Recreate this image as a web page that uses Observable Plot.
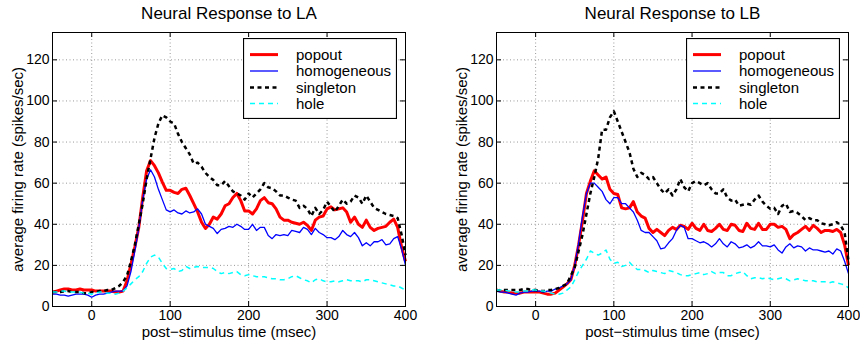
<!DOCTYPE html>
<html>
<head>
<meta charset="utf-8">
<script src="https://cdn.jsdelivr.net/npm/d3@7"></script>
<script src="https://cdn.jsdelivr.net/npm/@observablehq/plot@0.6"></script>
<style>
  html, body { margin: 0; padding: 0; background: white; }
  #wrap { display: flex; width: 860px; height: 341px; }
  .panel { position: relative; width: 430px; height: 341px; }
  .legend { position: absolute; top: 38px; }
  svg text { font-family: "Liberation Sans", Arial, Helvetica, sans-serif; }
</style>
</head>
<body>
<div id="wrap"></div>
<script>
// post-stimulus time (msec)
const time = [
  -50,-45,-40,-35,-30,-25,-20,-15,-10,-5,
  0,5,10,15,20,25,30,35,40,45,
  50,55,60,65,70,75,80,85,90,95,
  100,105,110,115,120,125,130,135,140,145,
  150,155,160,165,170,175,180,185,190,195,
  200,205,210,215,220,225,230,235,240,245,
  250,255,260,265,270,275,280,285,290,295,
  300,305,310,315,320,325,330,335,340,345,
  350,355,360,365,370,375,380,385,390,395,
  400
];

// Panel LA
const laPopout = [
  7,7.5,8,8.5,8.5,8,8,8.5,8,8,
  8,7.5,7.5,7.5,7.5,7.5,7,7,7.5,12.5,
  20.5,29,38.5,53,66,71,68.5,65,60.5,56.5,
  56.5,55.5,55,57,57.5,54,50,46,41,38,
  40,43.5,42.5,45,49,50,53,55,51.5,46.5,
  46.5,45,47.5,51.5,53,50.5,50,47.5,43.5,42,
  42,41,40.5,40,41,39.5,37,42,43.5,44,
  47.5,48.5,47,47.5,48,46,41,43.5,40,38.5,
  42,38.5,37,38,38.5,39,41,42.5,38.5,29,
  22
];
const laHomogeneous = [
  6,6,5.5,5.5,5,5.5,6,6,6,5.5,
  4.5,5.5,6,6,6.5,7,7.5,7.5,7.5,10,
  17,27,38,52,62,66.5,63,57,52,47,
  46,47,45.5,45,46.5,45.5,46,47.5,45,40,
  39,38,35.5,37.5,38,39,38.5,40,39,37.5,
  37.5,40,37,38.5,38.5,34.5,33,35,34.5,35,
  34.5,37,36.5,36,38.5,37.5,35,38,36,35,
  33.5,33.5,32.5,34,37,35,34,36,33.5,29.5,
  31,29.5,31.5,31.5,32.5,30,30.5,33,34,28,
  20
];
const laSingleton = [
  7,7,7,7.5,7.5,7,7,7,6.5,6.5,
  7,7,7.5,7.5,8,8,9,10,12,15,
  22,30,40,50,62,72,82,89,93,92,
  90,89,84,80,77,74,69.5,70,68,65,
  63,61.5,59,59,61,58.5,56,55,54,52,
  55,53,55,57,60,58,57.5,56,54,54,
  53,52,51.5,48,49,47.5,44,48,45,47,
  51,48.5,46,49,52,50,51,54,53,50,
  54,51,48,47,46,45,44.5,44,43,35,
  25
];
const laHole = [
  7,7,7.5,7.5,7,7,7,7,6.5,6.5,
  6,6.5,7,7,6.5,6.5,6,6.5,7.5,9,
  11,13,14.5,17,21,24,25,24,21,18.5,
  18,18.5,17,17.5,19.5,18.5,19,19.5,19,19,
  19,18.5,17,16,16.5,16,16.5,17,15.5,15,
  15.5,15,14.5,14.5,14.5,14,13.5,13.5,13,13,
  13.5,14.5,15,14,13,12.5,11.5,13,13.5,12.5,
  12,12,12.5,12,12.5,13,12.5,12.5,12.5,12,
  13,13,12.5,12,11.5,11,10.5,10,10,9,
  8
];

// Panel LB
const lbPopout = [
  8,7.5,7,7,6.5,6.5,6.5,7,7,7,
  7,7,6.5,6,6,6.5,8,9.5,11,13,
  20,30,42,55,61,66,64,62,63,57,
  55,54.5,48,47.5,48,51,46,44,43,38,
  36,37.5,36,34.5,37,38.5,37.5,39.5,39,37.5,
  40.5,38,37,40,37,36.5,38,40,37.5,37,
  40,39.5,37,36.5,40.5,38,37.5,40.5,37.5,37.5,
  40,40,38.5,39,37.5,33,35,36,37.5,39,
  37,39.5,38,36,37,37,36.5,37.5,36,30,
  20
];
const lbHomogeneous = [
  7.5,7,7,6.5,6,5.5,6.5,7,7,7.5,
  7.5,7.5,7,7.5,7.5,8.5,9,10,11,13,
  20,31,44,55,60,60,58,56,52,50,
  53,53,50,50,48,46,42,37,36,36,
  34,32,28,28.5,31,33,37,39.5,38.5,33,
  33,32,31,31.5,30.5,29,30.5,33,30.5,29,
  31.5,30.5,28.5,29,30,28.5,29.5,31.5,29.5,29.5,
  29,30,27.5,26,29,30.5,28.5,29.5,29,27,
  28.5,27.5,27.5,27,26.5,27,25.5,28,27,22,
  16
];
const lbSingleton = [
  7.5,8,8,8,8,8,8,8.5,8.5,8,
  8,7.5,7.5,8,8,8.5,9,10,11,15,
  19,27,35,45,55,63,72,86,86,92,
  95,90,85,80,75,67,63,65,64,62,
  63,60,57,55,57,54,57,62,58,56,
  60,61,60,59,60,57,55,55,57,53,
  51.5,52,49,49.5,50,49.5,52,54,51,49,
  47.5,48,45,49,50,46,46.5,45.5,44,42,
  43,42,42,40.5,40,39.5,40,41,39.5,36,
  22
];
const lbHole = [
  8,8,8,7.5,7.5,7,7,7.5,7.5,8,
  8,7.5,7.5,7,6.5,6,6,6.5,8,9.5,
  13,17,20,23,27,26,25,26,27.5,23,
  21,21.5,19.5,20,21.5,19.5,18,18,17.5,16.5,
  17.5,17,16.5,16,17.5,17,16.5,15.5,15,15,
  15.5,16,16.5,15.5,16,17,16,16.5,16.5,15,
  15,16,16.5,17,15,13.5,14,14,13.5,14,
  13.5,13,13.5,14,13.5,12.5,13,13.5,13,12.5,
  12.5,12.5,12,12,12,11.5,12,11.5,11,10.5,
  9
];

const xTicks = [0, 100, 200, 300, 400];
const xGrid = [0, 100, 200, 300];
const yTicks = [0, 20, 40, 60, 80, 100, 120];
const yGrid = [20, 40, 60, 80, 100, 120];
const seriesNames = ["popout", "homogeneous", "singleton", "hole"];
const titles = ["Neural Response to LA", "Neural Response to LB"];
const xLabel = "post\u2212stimulus time (msec)";
const yLabel = "average firing rate (spikes/sec)";

const styles = {
  popout:      {stroke: "#ff0000", strokeWidth: 3},
  homogeneous: {stroke: "#0000ff", strokeWidth: 1.3},
  singleton:   {stroke: "#000000", strokeWidth: 2.5, strokeDasharray: "4,3.5"},
  hole:        {stroke: "#00ffff", strokeWidth: 1.5, strokeDasharray: "5,4"}
};

const FONT = "'Liberation Sans', Arial, Helvetica, sans-serif";
const H = 341, W = 430, MT = 32, MB = 35;

function makePanel(title, arrays, ml, mr, legendLeft) {
  const fw = W - ml - mr, fh = H - MT - MB;
  const lineMarks = seriesNames.map((name, k) =>
    Plot.line(time.map((t, i) => ({t, v: arrays[k][i]})), {
      x: "t", y: "v", ...styles[name], strokeLinejoin: "round", strokeLinecap: "butt"
    })
  );
  const chart = Plot.plot({
    width: W, height: H,
    marginLeft: ml, marginRight: mr, marginTop: MT, marginBottom: MB,
    style: {fontFamily: FONT, fontSize: "14px", color: "black", background: "white", overflow: "visible"},
    x: {domain: [-50, 400]},
    y: {domain: [0, 133.3]},
    marks: [
      Plot.gridX(xGrid, {stroke: "#999", strokeOpacity: 1, strokeDasharray: "1,2.5"}),
      Plot.gridY(yGrid, {stroke: "#999", strokeOpacity: 1, strokeDasharray: "1,2.5"}),
      ...lineMarks,
      Plot.ruleX(xTicks, {stroke: "black", insetTop: fh - 5}),
      Plot.ruleX(xTicks, {stroke: "black", insetBottom: fh - 5}),
      Plot.ruleY(yTicks, {stroke: "black", insetRight: fw - 5}),
      Plot.ruleY(yTicks, {stroke: "black", insetLeft: fw - 5}),
      Plot.frame({stroke: "black", strokeWidth: 1}),
      Plot.axisX(xTicks, {tickSize: 0, tickPadding: 4, label: null, fontSize: 14}),
      Plot.axisY(yTicks, {tickSize: 0, tickPadding: 3, label: null, fontSize: 14}),
      Plot.text([title], {text: d => d, frameAnchor: "top", textAnchor: "middle", lineAnchor: "middle", dy: -19, fontSize: 17}),
      Plot.text([xLabel], {text: d => d, frameAnchor: "bottom", textAnchor: "middle", lineAnchor: "middle", dy: 26, fontSize: 15}),
      Plot.text([yLabel], {text: d => d, frameAnchor: "left", textAnchor: "middle", lineAnchor: "middle", dx: -34, rotate: -90, fontSize: 15})
    ]
  });
  const panel = document.createElement("div");
  panel.className = "panel";
  panel.appendChild(chart);

  // legend
  const ns = "http://www.w3.org/2000/svg";
  const lg = document.createElementNS(ns, "svg");
  lg.setAttribute("width", 154);
  lg.setAttribute("height", 81);
  lg.setAttribute("class", "legend");
  lg.style.left = legendLeft + "px";
  const rect = document.createElementNS(ns, "rect");
  rect.setAttribute("x", 0.5); rect.setAttribute("y", 0.5);
  rect.setAttribute("width", 153); rect.setAttribute("height", 80);
  rect.setAttribute("fill", "white"); rect.setAttribute("stroke", "black");
  rect.setAttribute("stroke-width", 1.2);
  lg.appendChild(rect);
  const rowY = [16.6, 33, 49.4, 65.4];
  seriesNames.forEach((name, k) => {
    const s = styles[name];
    const ln = document.createElementNS(ns, "line");
    ln.setAttribute("x1", 7); ln.setAttribute("x2", 35);
    ln.setAttribute("y1", rowY[k]); ln.setAttribute("y2", rowY[k]);
    ln.setAttribute("stroke", s.stroke);
    ln.setAttribute("stroke-width", s.strokeWidth);
    if (s.strokeDasharray) ln.setAttribute("stroke-dasharray", s.strokeDasharray);
    lg.appendChild(ln);
    const tx = document.createElementNS(ns, "text");
    tx.setAttribute("x", 53); tx.setAttribute("y", rowY[k]);
    tx.setAttribute("dy", "0.35em");
    tx.setAttribute("font-size", 15);
    tx.setAttribute("font-family", FONT);
    tx.textContent = name;
    lg.appendChild(tx);
  });
  panel.appendChild(lg);
  return panel;
}

const wrap = document.getElementById("wrap");
wrap.appendChild(makePanel(titles[0], [laPopout, laHomogeneous, laSingleton, laHole], 52, 25, 243));
wrap.appendChild(makePanel(titles[1], [lbPopout, lbHomogeneous, lbSingleton, lbHole], 66, 12, 256));
</script>
</body>
</html>
